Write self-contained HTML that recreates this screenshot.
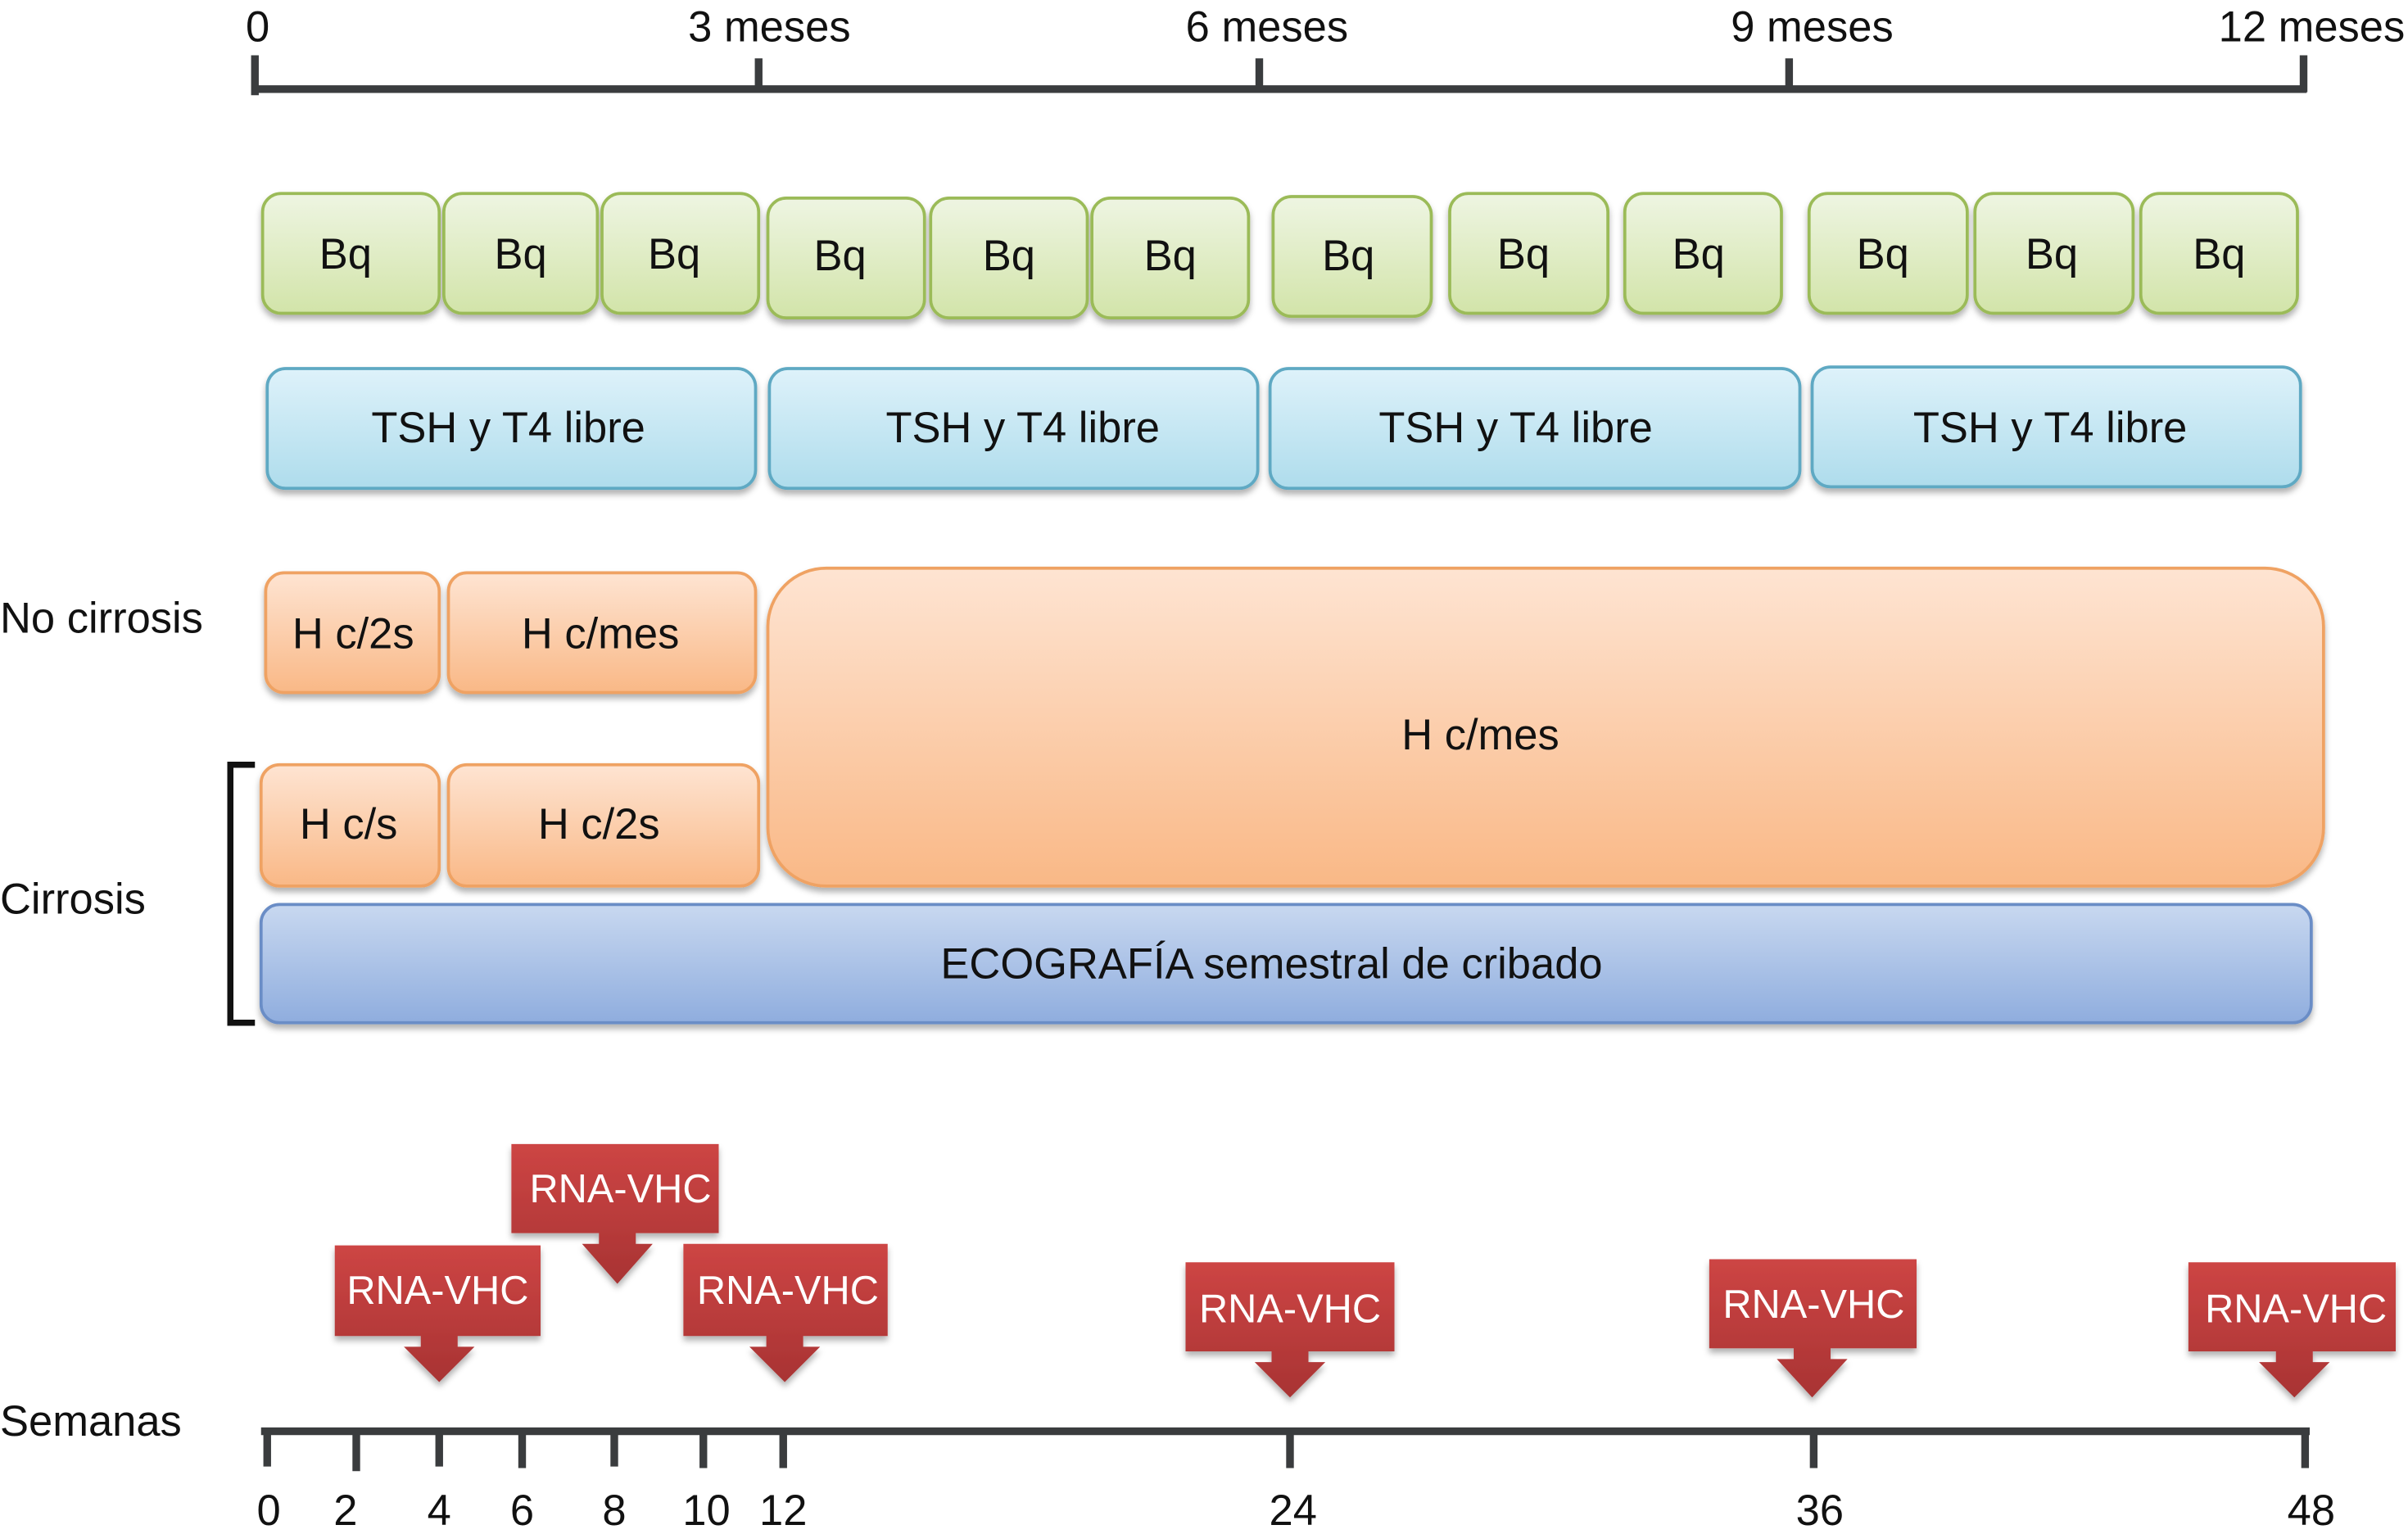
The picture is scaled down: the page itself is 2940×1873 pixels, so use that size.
<!DOCTYPE html>
<html><head><meta charset="utf-8"><style>
html,body{margin:0;padding:0;background:#fff;}
svg{display:block;}
text{font-family:"Liberation Sans",Arial,sans-serif;}
</style></head><body>
<svg width="2940" height="1873" viewBox="0 0 1568 998.9" preserveAspectRatio="none" xmlns="http://www.w3.org/2000/svg">
<defs>
<linearGradient id="g" x1="0" y1="0" x2="0" y2="1"><stop offset="0" stop-color="#eef5e2"/><stop offset="1" stop-color="#d2e4a9"/></linearGradient>
<linearGradient id="b" x1="0" y1="0" x2="0" y2="1"><stop offset="0" stop-color="#def2fa"/><stop offset="1" stop-color="#aedcec"/></linearGradient>
<linearGradient id="o" x1="0" y1="0" x2="0" y2="1"><stop offset="0" stop-color="#fee4d2"/><stop offset="1" stop-color="#f9b886"/></linearGradient>
<linearGradient id="e" x1="0" y1="0" x2="0" y2="1"><stop offset="0" stop-color="#c8d8f0"/><stop offset="1" stop-color="#8fadde"/></linearGradient>
<linearGradient id="r" x1="0" y1="0" x2="0" y2="1"><stop offset="0" stop-color="#cd4544"/><stop offset="1" stop-color="#a83333"/></linearGradient>
<filter id="s" x="-10%" y="-10%" width="120%" height="140%"><feDropShadow dx="0" dy="3" stdDeviation="2" flood-color="#000" flood-opacity="0.3"/></filter>
</defs>
<!-- top axis -->
<g stroke="#3a3c3e" stroke-width="5" fill="none">
<line x1="164" y1="58" x2="1502" y2="58"/>
<line x1="166" y1="36" x2="166" y2="62"/>
<line x1="494" y1="38" x2="494" y2="60"/>
<line x1="820" y1="38" x2="820" y2="60"/>
<line x1="1165" y1="38" x2="1165" y2="60"/>
<line x1="1500" y1="36" x2="1500" y2="60"/>
</g>
<g font-size="28" fill="#111">
<text x="160" y="27">0</text>
<text x="501" y="27" text-anchor="middle">3 meses</text>
<text x="825" y="27" text-anchor="middle">6 meses</text>
<text x="1180" y="27" text-anchor="middle">9 meses</text>
<text x="1566" y="27" text-anchor="end">12 meses</text>
</g>
<!-- Bq -->
<g fill="url(#g)" stroke="#9bbb59" stroke-width="2" filter="url(#s)">
<rect x="171" y="126" width="115" height="78" rx="12"/>
<rect x="289" y="126" width="100" height="78" rx="12"/>
<rect x="392" y="126" width="102" height="78" rx="12"/>
<rect x="500" y="129" width="102" height="78" rx="12"/>
<rect x="606" y="129" width="102" height="78" rx="12"/>
<rect x="711" y="129" width="102" height="78" rx="12"/>
<rect x="829" y="128" width="103" height="78" rx="12"/>
<rect x="944" y="126" width="103" height="78" rx="12"/>
<rect x="1058" y="126" width="102" height="78" rx="12"/>
<rect x="1178" y="126" width="103" height="78" rx="12"/>
<rect x="1286" y="126" width="103" height="78" rx="12"/>
<rect x="1394" y="126" width="102" height="78" rx="12"/>
</g>
<g font-size="28" fill="#111" text-anchor="middle">
<text x="225" y="175">Bq</text><text x="339" y="175">Bq</text><text x="439" y="175">Bq</text>
<text x="547" y="176">Bq</text><text x="657" y="176">Bq</text><text x="762" y="176">Bq</text>
<text x="878" y="176">Bq</text><text x="992" y="175">Bq</text><text x="1106" y="175">Bq</text>
<text x="1226" y="175">Bq</text><text x="1336" y="175">Bq</text><text x="1445" y="175">Bq</text>
</g>
<!-- TSH -->
<g fill="url(#b)" stroke="#5ea9c3" stroke-width="2" filter="url(#s)">
<rect x="174" y="240" width="318" height="78" rx="12"/>
<rect x="501" y="240" width="318" height="78" rx="12"/>
<rect x="827" y="240" width="345" height="78" rx="12"/>
<rect x="1180" y="239" width="318" height="78" rx="12"/>
</g>
<g font-size="28" fill="#111" text-anchor="middle">
<text x="331" y="288">TSH y T4 libre</text>
<text x="666" y="288">TSH y T4 libre</text>
<text x="987" y="288">TSH y T4 libre</text>
<text x="1335" y="288">TSH y T4 libre</text>
</g>
<!-- H -->
<g fill="url(#o)" stroke="#efa263" stroke-width="2" filter="url(#s)">
<rect x="173" y="373" width="113" height="78" rx="12"/>
<rect x="292" y="373" width="200" height="78" rx="12"/>
<rect x="500" y="370" width="1013" height="207" rx="38"/>
<rect x="170" y="498" width="116" height="79" rx="12"/>
<rect x="292" y="498" width="202" height="79" rx="12"/>
</g>
<g font-size="28" fill="#111" text-anchor="middle">
<text x="230" y="422">H c/2s</text>
<text x="391" y="422">H c/mes</text>
<text x="964" y="488">H c/mes</text>
<text x="227" y="546">H c/s</text>
<text x="390" y="546">H c/2s</text>
</g>
<rect x="170" y="589" width="1335" height="77" rx="12" fill="url(#e)" stroke="#6b8dc6" stroke-width="2" filter="url(#s)"/>
<text x="828" y="637" font-size="28" fill="#111" text-anchor="middle">ECOGRAFÍA semestral de cribado</text>
<!-- left labels -->
<g font-size="28" fill="#111">
<text x="0" y="412">No cirrosis</text>
<text x="0" y="595">Cirrosis</text>
<text x="0" y="935">Semanas</text>
</g>
<path d="M166 498 H150 V666 H166" fill="none" stroke="#111" stroke-width="4"/>
<!-- bottom axis -->
<g stroke="#3a3c3e" stroke-width="5" fill="none">
<line x1="170" y1="932" x2="1504" y2="932"/>
<line x1="174" y1="932" x2="174" y2="955"/>
<line x1="232" y1="932" x2="232" y2="958"/>
<line x1="286" y1="932" x2="286" y2="955"/>
<line x1="340" y1="932" x2="340" y2="956"/>
<line x1="400" y1="932" x2="400" y2="955"/>
<line x1="458" y1="932" x2="458" y2="956"/>
<line x1="510" y1="932" x2="510" y2="956"/>
<line x1="840" y1="932" x2="840" y2="956"/>
<line x1="1181" y1="932" x2="1181" y2="956"/>
<line x1="1501" y1="932" x2="1501" y2="956"/>
</g>
<g font-size="28" fill="#111" text-anchor="middle">
<text x="175" y="993">0</text><text x="225" y="993">2</text><text x="286" y="993">4</text>
<text x="340" y="993">6</text><text x="400" y="993">8</text><text x="460" y="993">10</text>
<text x="510" y="993">12</text><text x="842" y="993">24</text><text x="1185" y="993">36</text>
<text x="1505" y="993">48</text>
</g>
<!-- RNA-VHC callouts -->
<g fill="url(#r)" filter="url(#s)">
<path d="M218 811 H352 V870 H298 V877 H309 L286 900 L263 877 H274 V870 H218 Z"/>
<path d="M333 745 H468 V803 H414 V810 H425 L402 836 L379 810 H390 V803 H333 Z"/>
<path d="M445 810 H578 V870 H523 V877 H534 L511 900 L488 877 H499 V870 H445 Z"/>
<path d="M772 822 H908 V880 H852 V887 H863 L840 910 L817 887 H828 V880 H772 Z"/>
<path d="M1113 820 H1248 V878 H1192 V885 H1203 L1180 910 L1157 885 H1168 V878 H1113 Z"/>
<path d="M1425 822 H1560 V880 H1506 V887 H1517 L1494 910 L1471 887 H1482 V880 H1425 Z"/>
</g>
<g font-size="26" fill="#fff" text-anchor="middle">
<text x="285" y="849">RNA-VHC</text>
<text x="404" y="783">RNA-VHC</text>
<text x="513" y="849">RNA-VHC</text>
<text x="840" y="861">RNA-VHC</text>
<text x="1181" y="858">RNA-VHC</text>
<text x="1495" y="861">RNA-VHC</text>
</g>
</svg>
</body></html>
